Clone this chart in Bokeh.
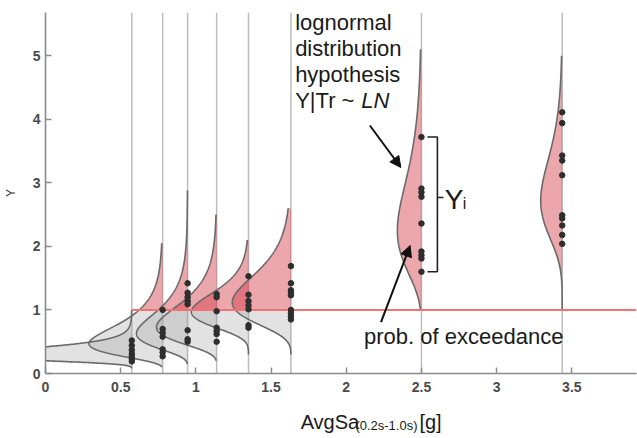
import numpy as np
from bokeh.plotting import figure
from bokeh.layouts import column
from bokeh.core.properties import value
from bokeh.models import Range1d, FixedTicker, NumeralTickFormatter, Label, Arrow, NormalHead
from bokeh.embed import file_html
from bokeh.resources import INLINE

# ---------------- data ----------------
positions = [0.574, 0.779, 0.945, 1.138, 1.350, 1.632, 2.50, 3.436]   # AvgSa of each stripe
modes = [0.29, 0.47, 0.63, 0.73, 0.97, 1.12, 2.25, 2.72]              # mode of fitted lognormal
log_sd = [0.32, 0.50, 0.44, 0.41, 0.28, 0.34, 0.32, 0.23]             # log-std of fitted lognormal
peak_width = [1.12, 0.49, 0.34, 0.40, 0.38, 0.39, 0.16, 0.143]        # drawn pdf height (x units)
y_low = [0.08, 0.10, 0.15, 0.20, 0.30, 0.30, 1.10, 1.30]
y_high = [0.9, 2.05, 2.88, 2.5, 2.1, 2.6, 5.1, 5.0]

samples = [
    [0.52, 0.44, 0.37, 0.31, 0.27, 0.23, 0.19],
    [1.00, 0.70, 0.64, 0.58, 0.38, 0.33, 0.27],
    [1.42, 1.27, 1.20, 1.14, 1.09, 0.68, 0.54, 0.50],
    [1.25, 1.20, 0.98, 0.72, 0.67, 0.62, 0.50],
    [1.53, 1.24, 1.14, 1.07, 1.01, 0.76, 0.72],
    [1.69, 1.42, 1.31, 1.27, 1.23, 1.00, 0.95, 0.90, 0.85],
    [3.72, 2.91, 2.85, 2.78, 2.36, 1.92, 1.86, 1.81, 1.60],
    [4.11, 3.94, 3.43, 3.35, 3.12, 2.49, 2.44, 2.33, 2.18, 2.04],
]
threshold = 1.0

x_ticks = [0, 0.5, 1, 1.5, 2, 2.5, 3, 3.5]
y_ticks = [0, 1, 2, 3, 4, 5]
X_MAX, Y_MAX = 3.93, 5.68

FONT = "Liberation Sans"

p = figure(width=637, height=400, x_range=Range1d(0, X_MAX), y_range=Range1d(0, Y_MAX),
           output_backend="svg", toolbar_location=None,
           min_border_left=44, min_border_right=1, min_border_top=12, min_border_bottom=27)
p.outline_line_color = None
p.grid.visible = False
p.background_fill_color = "white"
p.border_fill_color = "white"

for ax in (p.xaxis, p.yaxis):
    ax.axis_line_color = "#8a8a8a"
    ax.axis_line_width = 1.6
    ax.major_tick_line_color = "#8a8a8a"
    ax.major_tick_line_width = 1.4
    ax.major_tick_in = 6
    ax.major_tick_out = 0
    ax.minor_tick_line_color = None
    ax.major_label_text_font = FONT
    ax.major_label_text_font_size = "14px"
    ax.major_label_text_font_style = "bold"
    ax.major_label_text_color = "#4a4a4a"
p.xaxis.ticker = FixedTicker(ticks=x_ticks)
p.yaxis.ticker = FixedTicker(ticks=y_ticks)
p.xaxis.formatter = NumeralTickFormatter(format="0.[0]")
p.yaxis.formatter = NumeralTickFormatter(format="0")
p.xaxis.major_label_standoff = 8
p.yaxis.major_label_standoff = 5
p.yaxis.axis_label = "Y"
p.yaxis.axis_label_text_font = FONT
p.yaxis.axis_label_text_font_size = "12px"
p.yaxis.axis_label_text_font_style = "normal"
p.yaxis.axis_label_text_color = "#333333"
p.yaxis.axis_label_standoff = 12

# vertical stripes
p.segment(x0=positions, y0=[0] * len(positions), x1=positions, y1=[Y_MAX] * len(positions),
          line_color="#bdbdbd", line_width=1.5)

# densities
pink, grey = "#d43c46", "#a0a0a0"
curves = []
for xc, m, s, w, lo, hi in zip(positions, modes, log_sd, peak_width, y_low, y_high):
    ys = np.unique(np.concatenate([np.linspace(lo, hi, 500), [threshold]]))
    dx = w * np.exp(-(np.log(ys / m)) ** 2 / (2 * s * s))
    xs = xc - dx
    up = ys >= threshold
    dn = ys <= threshold
    if up.sum() > 1:
        p.harea(x1=xs[up], x2=np.full(up.sum(), xc), y=ys[up], fill_color=pink, fill_alpha=0.45)
    if dn.sum() > 1:
        p.harea(x1=xs[dn], x2=np.full(dn.sum(), xc), y=ys[dn], fill_color=grey, fill_alpha=0.3)
    curves.append((xs, ys))
for xs, ys in curves:
    p.line(xs, ys, line_color="#6a6a6a", line_width=1.6)

# threshold line
p.line([positions[0], X_MAX], [threshold, threshold], line_color="#ef7474", line_width=2)

# samples
for xc, vals in zip(positions, samples):
    p.scatter([xc] * len(vals), vals, size=5.5, color="#2e2e2e")

# bracket around the samples of stripe 7
b_top, b_bot = max(samples[6]), min(samples[6])
bx = positions[6] + 0.106
p.line([bx - 0.066, bx, bx, bx - 0.066], [b_top, b_top, b_bot, b_bot], line_color="#222222", line_width=1.6)
p.line([bx, bx + 0.04], [2.77, 2.77], line_color="#222222", line_width=1.6)

def lab(x, y, t, size, style="normal", **kw):
    p.add_layout(Label(x=x, y=y, text=t, text_font=FONT, text_font_size=size,
                       text_font_style=style, text_color="#1a1a1a",
                       text_baseline="alphabetic", **kw))

lab(2.655, 2.74, "Y", "28px")
lab(2.775, 2.68, "i", "16px")

for yy, t in zip([5.53, 5.12, 4.71, 4.29], ["lognormal", "distribution", "hypothesis", "Y|Tr ~ "]):
    lab(1.66, yy, t, "22px")
lab(2.100, 4.29, "LN", "22px", style="italic")
lab(2.118, 0.58, "prob. of exceedance", "22px")

for xs0, ys0, xe, ye in [(2.157, 3.902, 2.363, 3.241), (2.231, 0.807, 2.425, 2.014)]:
    p.add_layout(Arrow(end=NormalHead(size=11, fill_color="#111111", line_color="#111111"),
                       x_start=xs0, y_start=ys0, x_end=xe, y_end=ye,
                       line_color="#111111", line_width=2))

# x-axis title strip (with subscript) drawn in a small figure below
t = figure(width=637, height=38, x_range=Range1d(0, 637), y_range=Range1d(0, 38),
           output_backend="svg", toolbar_location=None, x_axis_type=None, y_axis_type=None,
           min_border_left=0, min_border_right=0, min_border_top=0, min_border_bottom=0)
t.outline_line_color = None
t.grid.visible = False
title_parts = ["AvgSa", "(0.2s-1.0s)", "[g]"]
title_x = [275, 334, 403]
title_y = [17, 13, 17]
title_size = ["20px", "13px", "20px"]
for tx, ty, tt, ts in zip(title_x, title_y, title_parts, title_size):
    t.text(x=[tx], y=[ty], text=[tt], text_font=value(FONT), text_font_size=value(ts),
           text_color="#1a1a1a", text_baseline="alphabetic", text_align="left")

layout = column(p, t, spacing=0)
open("out.html", "w").write(file_html(layout, INLINE))
